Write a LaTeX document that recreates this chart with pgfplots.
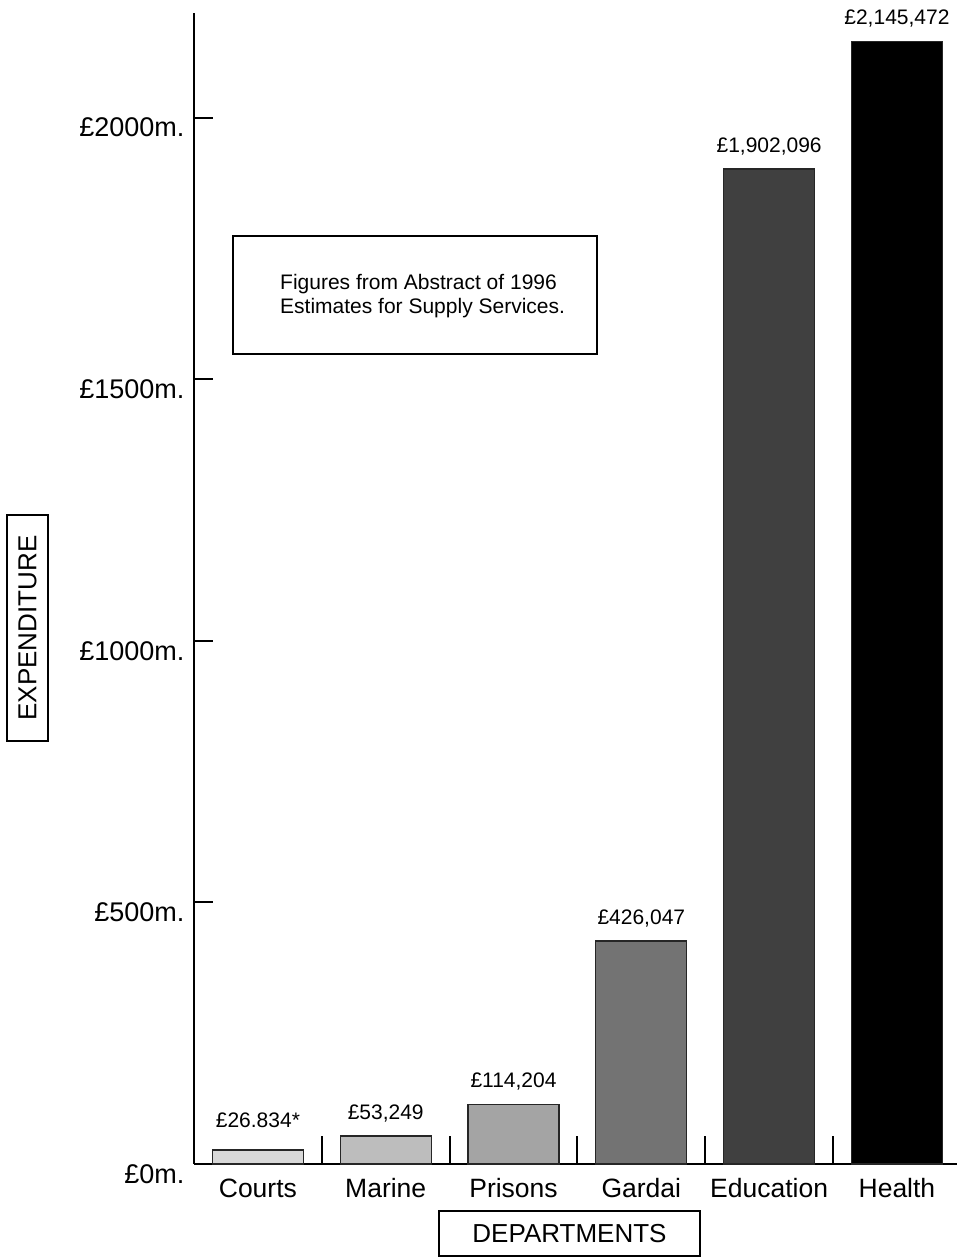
\documentclass[border=0pt]{standalone}
\usepackage{fontspec}
\setmainfont{Liberation Sans}
\usepackage{pgfplots}
\pgfplotsset{compat=1.18}
\definecolor{cCourts}{HTML}{D8D8D8}
\definecolor{cMarine}{HTML}{BDBDBD}
\definecolor{cPrisons}{HTML}{A4A4A4}
\definecolor{cGardai}{HTML}{737373}
\definecolor{cEducation}{HTML}{404040}
\definecolor{cHealth}{HTML}{000000}
\begin{document}
\begin{tikzpicture}[x=1pt,y=1pt]
\useasboundingbox (0,0) rectangle (957,1258);
\begin{axis}[
  at={(194pt,94pt)}, anchor=south west,
  width=763pt, height=1151pt, scale only axis,
  xmin=-0.5, xmax=5.47, ymin=0, ymax=2200,
  axis x line=bottom, axis y line=left,
  axis line style={-, line width=2pt, black},
  clip=false,
  xtick={0,1,2,3,4,5},
  xticklabels={Courts,Marine,Prisons,Gardai,Education,Health},
  ytick={0,500,1000,1500,2000},
  yticklabels={£0m.,£500m.,£1000m.,£1500m.,£2000m.},
  tick align=inside, major tick length=19pt,
  xtick style={draw=none},
  ytick style={line width=2pt, black},
  ticklabel style={text=black},
  yticklabel style={font=\fontsize{27}{32}\selectfont, yshift=-10pt, xshift=-6pt},
  xticklabel style={font=\fontsize{26.5}{31}\selectfont, yshift=-11pt},
  nodes near coords style={font=\fontsize{21}{25}\selectfont, text=black, anchor=south, yshift=10pt},
]
\addplot[ycomb, line width=2pt, black, mark=none] coordinates {(0.5,53.5)(1.5,53.5)(2.5,53.5)(3.5,53.5)(4.5,53.5)};
\addplot[ybar, bar width=91pt, bar shift=0pt, fill=cCourts, draw=black!85, line width=1.3pt, nodes near coords={£26.834*}, nodes near coords style={yshift=8pt}] coordinates {(0,26.834)};
\addplot[ybar, bar width=91pt, bar shift=0pt, fill=cMarine, draw=black!85, line width=1.3pt, nodes near coords={£53,249}] coordinates {(1,53.249)};
\addplot[ybar, bar width=91pt, bar shift=0pt, fill=cPrisons, draw=black!85, line width=1.3pt, nodes near coords={£114,204}] coordinates {(2,114.204)};
\addplot[ybar, bar width=91pt, bar shift=0pt, fill=cGardai, draw=black!85, line width=1.3pt, nodes near coords={£426,047}] coordinates {(3,426.047)};
\addplot[ybar, bar width=91pt, bar shift=0pt, fill=cEducation, draw=black!85, line width=1.3pt, nodes near coords={£1,902,096}] coordinates {(4,1902.096)};
\addplot[ybar, bar width=91pt, bar shift=0pt, fill=cHealth, draw=black!85, line width=1.3pt, nodes near coords={£2,145,472}] coordinates {(5,2145.472)};
\end{axis}
\draw[line width=2pt] (233,904) rectangle (597,1022);
\node[align=left, anchor=west, inner sep=0pt, font=\fontsize{21}{24}\selectfont] at (280,962) {Figures from Abstract of 1996\\Estimates for Supply Services.};
\node[draw, line width=2pt, rotate=90, minimum width=226pt, minimum height=41pt, inner sep=0pt, font=\fontsize{26}{31}\selectfont] at (27.5,630) {EXPENDITURE};
\node[draw, line width=1.5pt, minimum width=261pt, minimum height=45pt, inner sep=0pt, font=\fontsize{26}{31}\selectfont] at (569.5,24.5) {DEPARTMENTS};
\end{tikzpicture}
\end{document}
